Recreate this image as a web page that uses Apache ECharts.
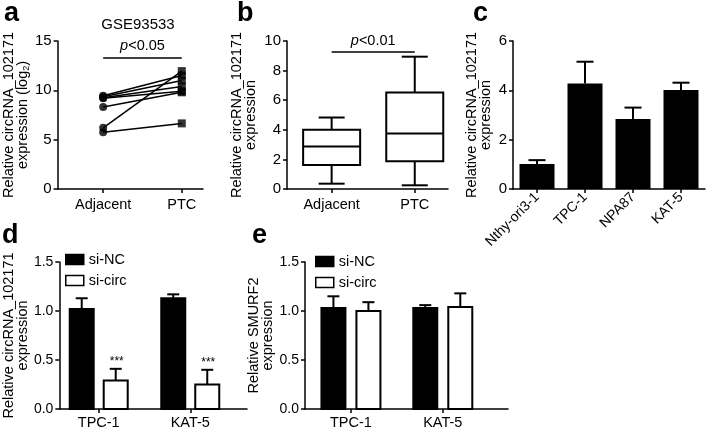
<!DOCTYPE html>
<html>
<head>
<meta charset="utf-8">
<script src="https://cdn.jsdelivr.net/npm/echarts@6/dist/echarts.min.js"></script>
<style>
  html, body { margin: 0; padding: 0; background: #fff; }
  #chart { width: 709px; height: 431px; }
</style>
</head>
<body>
<div id="chart"></div>
<script>
// panel a - paired samples, GSE93533 (log2)
const pairAdjacent = [9.45, 9.35, 9.25, 9.2, 8.3, 6.2, 5.75];
const pairPTC = [11.5, 11.0, 10.4, 9.9, 9.8, 11.95, 6.65];
const groupNames = ['Adjacent', 'PTC'];

// panel b - box plot [min, q1, median, q3, max]
const boxAdjacent = [0.36, 1.63, 2.87, 4.0, 4.83];
const boxPTC = [0.25, 1.87, 3.75, 6.52, 8.94];

// panel c - cell lines
const cellLines = ['Nthy-ori3-1', 'TPC-1', 'NPA87', 'KAT-5'];
const cellMean = [1.01, 4.28, 2.84, 4.01];
const cellErr = [0.16, 0.88, 0.46, 0.3];

// panels d, e
const lines2 = ['TPC-1', 'KAT-5'];
const circNC = [1.02, 1.13];
const circNCErr = [0.11, 0.04];
const circSi = [0.29, 0.25];
const circSiErr = [0.12, 0.15];
const circStars = ['***', '***'];
const smurfNC = [1.03, 1.03];
const smurfNCErr = [0.12, 0.03];
const smurfSi = [1.0, 1.04];
const smurfSiErr = [0.09, 0.14];

const FONT = 'Liberation Sans, Arial, sans-serif';
const chart = echarts.init(document.getElementById('chart'));

function yAx(gridIndex, max, interval, name, nameGap, digits) {
  return {
    gridIndex: gridIndex, type: 'value', min: 0, max: max, interval: interval,
    name: name, nameLocation: 'middle', nameGap: nameGap,
    nameTextStyle: { fontSize: 14.5, lineHeight: 14, color: '#000', fontFamily: FONT,
      rich: { s: { fontSize: 9, padding: [8, 0, 0, 0], color: '#000' } } },
    axisLine: { show: true, onZero: false, lineStyle: { color: '#000', width: 1.5 } },
    axisTick: { show: true, length: 4, lineStyle: { color: '#000', width: 1.5 } },
    axisLabel: { color: '#000', fontSize: digits ? 14 : 15, margin: 6, fontFamily: FONT,
      formatter: v => digits ? v.toFixed(digits) : String(v) },
    splitLine: { show: false }
  };
}

function xAx(gridIndex, min, max, names, margin) {
  return {
    gridIndex: gridIndex, type: 'value', min: min, max: max,
    axisLine: { show: true, onZero: false, lineStyle: { color: '#000', width: 1.5 } },
    axisTick: { show: true, length: 4, customValues: [0, 1], lineStyle: { color: '#000', width: 1.5 } },
    axisLabel: { color: '#000', fontSize: 14.5, margin: margin, fontFamily: FONT,
      customValues: [0, 1], formatter: v => names[Math.round(v)] },
    splitLine: { show: false }
  };
}

function errLine(x, y1, y2, cap) {
  const st = { stroke: '#000', lineWidth: 2 };
  return [
    { type: 'line', shape: { x1: x, y1: y1, x2: x, y2: y2 }, style: st },
    { type: 'line', shape: { x1: x - cap / 2, y1: y2, x2: x + cap / 2, y2: y2 }, style: st }
  ];
}

// grouped bar with upper error bar (d, e)
function groupBar(offset, fill, stars) {
  return function (params, api) {
    const i = api.value(0), v = api.value(1), e = api.value(2);
    const base = api.coord([i, 0]);
    const top = api.coord([i, v]);
    const et = api.coord([i, v + e]);
    const cx = base[0] + offset;
    const w = 24;
    const kids = errLine(cx, top[1], et[1], 12);
    kids.push({ type: 'rect', shape: { x: cx - w / 2, y: top[1], width: w, height: base[1] - top[1] },
      style: { fill: fill, stroke: '#000', lineWidth: 2 } });
    if (stars) {
      kids.push({ type: 'text', x: cx + 1, y: et[1] - 1,
        style: { text: stars[params.dataIndex], align: 'center', verticalAlign: 'bottom',
          fontSize: 12, fill: '#000', fontFamily: FONT } });
    }
    return { type: 'group', children: kids };
  };
}

function boxRender(params, api) {
  const i = api.value(0);
  const p = [1, 2, 3, 4, 5].map(k => api.coord([i, api.value(k)]));
  const cx = p[0][0], bw = 57, cw = 26;
  const st = { stroke: '#000', lineWidth: 2 };
  return { type: 'group', children: [
    { type: 'line', shape: { x1: cx, y1: p[0][1], x2: cx, y2: p[1][1] }, style: st },
    { type: 'line', shape: { x1: cx, y1: p[3][1], x2: cx, y2: p[4][1] }, style: st },
    { type: 'line', shape: { x1: cx - cw / 2, y1: p[0][1], x2: cx + cw / 2, y2: p[0][1] }, style: st },
    { type: 'line', shape: { x1: cx - cw / 2, y1: p[4][1], x2: cx + cw / 2, y2: p[4][1] }, style: st },
    { type: 'rect', shape: { x: cx - bw / 2, y: p[3][1], width: bw, height: p[1][1] - p[3][1] },
      style: { fill: '#fff', stroke: '#000', lineWidth: 2 } },
    { type: 'line', shape: { x1: cx - bw / 2, y1: p[2][1], x2: cx + bw / 2, y2: p[2][1] }, style: st }
  ] };
}

function cellErrRender(params, api) {
  const i = api.value(0), v = api.value(1), e = api.value(2);
  const top = api.coord([i, v]);
  const et = api.coord([i, v + e]);
  return { type: 'group', children: errLine(top[0], top[1], et[1], 17) };
}

function sigMark(y, text) {
  return {
    symbol: 'none', silent: true,
    lineStyle: { color: '#000', type: 'solid', width: 1.5 },
    label: { show: true, position: 'middle', formatter: text, color: '#000', fontSize: 14.5,
      fontFamily: FONT, distance: 4, rich: { i: { fontStyle: 'italic', fontSize: 14.5, color: '#000' } } },
    emphasis: { disabled: true },
    data: [[{ coord: [0, y] }, { coord: [1, y] }]]
  };
}

const letter = (t, x, y) => ({ text: t, left: x, top: y, padding: 0,
  textStyle: { fontSize: 27, fontWeight: 'bold', color: '#000', fontFamily: FONT } });

const series = [];
pairAdjacent.forEach((a, k) => {
  series.push({ type: 'line', xAxisIndex: 0, yAxisIndex: 0, data: [[0, a], [1, pairPTC[k]]],
    showSymbol: false, lineStyle: { color: '#000', width: 1.5 }, silent: true, z: 2 });
});
series.push({ type: 'scatter', xAxisIndex: 0, yAxisIndex: 0, symbol: 'circle', symbolSize: 8,
  itemStyle: { color: '#000' }, data: pairAdjacent.map(v => [0, v]), z: 3,
  markLine: sigMark(13.3, '{i|p}<0.05') });
series.push({ type: 'scatter', xAxisIndex: 0, yAxisIndex: 0, symbol: 'rect', symbolSize: 8,
  itemStyle: { color: '#000' }, data: pairPTC.map(v => [1, v]), z: 3 });

series.push({ type: 'custom', xAxisIndex: 1, yAxisIndex: 1, renderItem: boxRender,
  data: [[0].concat(boxAdjacent), [1].concat(boxPTC)], encode: { x: 0, y: [1, 5] },
  markLine: sigMark(9.25, '{i|p}<0.01') });

series.push({ type: 'bar', xAxisIndex: 2, yAxisIndex: 2, data: cellMean, barWidth: 35,
  itemStyle: { color: '#000' }, z: 3 });
series.push({ type: 'custom', xAxisIndex: 2, yAxisIndex: 2, renderItem: cellErrRender, z: 2,
  data: cellMean.map((v, i) => [i, v, cellErr[i]]), encode: { x: 0, y: 1 } });

series.push({ name: 'si-NC', type: 'custom', xAxisIndex: 3, yAxisIndex: 3, renderItem: groupBar(-17, '#000'),
  itemStyle: { color: '#000' }, data: circNC.map((v, i) => [i, v, circNCErr[i]]), encode: { x: 0, y: 1 } });
series.push({ name: 'si-circ', type: 'custom', xAxisIndex: 3, yAxisIndex: 3, renderItem: groupBar(17, '#fff', circStars),
  itemStyle: { color: '#fff' }, data: circSi.map((v, i) => [i, v, circSiErr[i]]), encode: { x: 0, y: 1 } });
series.push({ name: 'si-NC', type: 'custom', xAxisIndex: 4, yAxisIndex: 4, renderItem: groupBar(-17.5, '#000'),
  itemStyle: { color: '#000' }, data: smurfNC.map((v, i) => [i, v, smurfNCErr[i]]), encode: { x: 0, y: 1 } });
series.push({ name: 'si-circ', type: 'custom', xAxisIndex: 4, yAxisIndex: 4, renderItem: groupBar(17.5, '#fff'),
  itemStyle: { color: '#fff' }, data: smurfSi.map((v, i) => [i, v, smurfSiErr[i]]), encode: { x: 0, y: 1 } });

const legendItems = [
  { name: 'si-NC', itemStyle: { color: '#000', borderColor: '#000', borderWidth: 1.5 } },
  { name: 'si-circ', itemStyle: { color: '#fff', borderColor: '#000', borderWidth: 1.5 } }
];
const legendBase = { orient: 'vertical', icon: 'rect', itemWidth: 18, itemHeight: 10, itemGap: 6,
  padding: 0, selectedMode: false, data: legendItems,
  textStyle: { fontSize: 14.5, color: '#000', fontFamily: FONT } };

chart.setOption({
  animation: false,
  textStyle: { fontFamily: FONT },
  title: [
    letter('a', 4, 0), letter('b', 237, 0), letter('c', 473, 0),
    letter('d', 2, 222), letter('e', 252, 222),
    { text: 'GSE93533', left: 138, top: 17, textAlign: 'center', padding: 0,
      textStyle: { fontSize: 15, fontWeight: 'normal', color: '#000', fontFamily: FONT } }
  ],
  legend: [
    Object.assign({ left: 65, top: 252 }, legendBase),
    Object.assign({ left: 315, top: 254 }, legendBase)
  ],
  grid: [
    { left: 47, top: 41, width: 156, height: 148 },
    { left: 287, top: 41, width: 161, height: 148 },
    { left: 513, top: 41, width: 192, height: 148 },
    { left: 53, top: 262, width: 194, height: 147 },
    { left: 305, top: 262, width: 203, height: 147 }
  ],
  xAxis: [
    xAx(0, -0.58, 1.27, groupNames, 8),
    xAx(1, -0.537, 1.40, groupNames, 8),
    { gridIndex: 2, type: 'category', data: cellLines,
      axisLine: { lineStyle: { color: '#000', width: 1.5 } },
      axisTick: { show: true, alignWithLabel: true, length: 4, lineStyle: { color: '#000', width: 1.5 } },
      axisLabel: { color: '#000', fontSize: 14, rotate: 45, margin: 6, interval: 0, fontFamily: FONT } },
    xAx(3, -0.43, 1.62, lines2, 6),
    xAx(4, -0.5, 1.71, lines2, 6)
  ],
  yAxis: [
    yAx(0, 15, 5, 'Relative circRNA_102171\nexpression (log{s|2})', 20, 0),
    yAx(1, 10, 2, 'Relative circRNA_102171\nexpression', 29, 0),
    yAx(2, 6, 2, 'Relative circRNA_102171\nexpression', 20, 0),
    yAx(3, 1.5, 0.5, 'Relative circRNA_102171\nexpression', 26, 1),
    yAx(4, 1.5, 0.5, 'Relative SMURF2\nexpression', 28, 1)
  ],
  series: series
});
</script>
</body>
</html>
